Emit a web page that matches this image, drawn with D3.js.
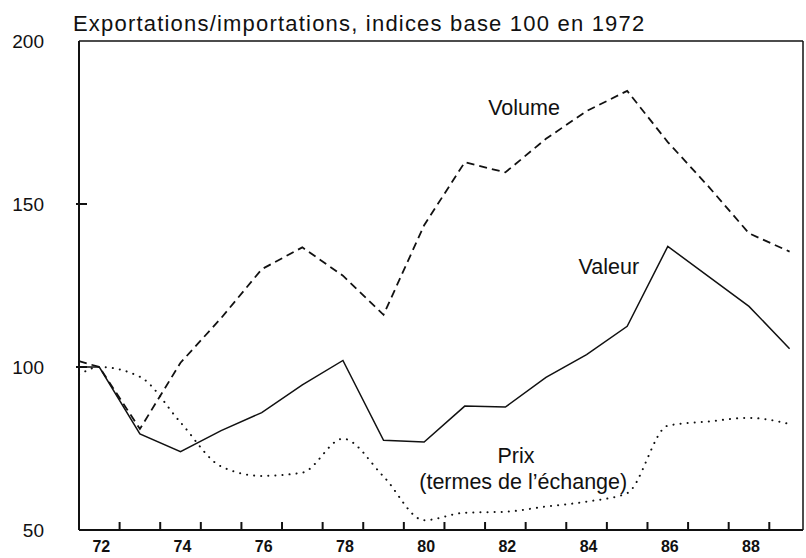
<!DOCTYPE html>
<html><head><meta charset="utf-8">
<script src="https://cdn.jsdelivr.net/npm/d3@7"></script>
<style>
body{margin:0;background:#fff;}
svg{display:block;}
text{font-family:"Liberation Sans",Arial,sans-serif;fill:#111;}
</style></head>
<body>
<svg id="c" width="806" height="558"></svg>
<script>
const title = "Exportations/importations, indices base 100 en 1972";
const years = [71.5,72,73,74,75,76,77,78,79,80,81,82,83,84,85,86,87,88,89];
const valeur = [100,100,79.5,74,80.5,86,94.5,102,77.5,77,88,87.7,96.8,103.8,112.5,137,127.8,118.6,105.6];
const volume = [101.8,100,81,101.3,115,130,136.7,128,116,143.5,162.8,159.7,170,178.5,184.7,169,155.4,141,135.4];
const prix = [97.6,100,97,83,69.5,66.6,67.6,78,66.4,53,55.3,55.6,57.2,58.7,61.3,82,83.3,84.4,82.5];
const yTicks = [50,100,150,200];
const xTickMarks = [72.5,73.5,74.5,75.5,76.5,77.5,78.5,79.5,80.5,81.5,82.5,83.5,84.5,85.5,86.5,87.5,88.5];
const xLabels = [72,74,76,78,80,82,84,86,88];
const seriesLabels = [
  {text:"Volume", x:82.46, y:177.3},
  {text:"Valeur", x:84.55, y:128.5},
  {text:"Prix", x:82.26, y:70.6},
  {text:"(termes de l\u2019échange)", x:82.44, y:62.6}
];

const svg = d3.select("#c");
const x = d3.scaleLinear().domain([71.5, 89.33]).range([79, 803]);
const y = d3.scaleLinear().domain([50, 200]).range([530, 41]);

// title
svg.append("text").attr("x",73).attr("y",31).attr("font-size",22)
  .attr("letter-spacing","1.2px").text(title);

// frame: left axis, top, right, bottom
const g = svg.append("g").attr("stroke","#111").attr("fill","none");
g.append("line").attr("x1",x(71.5)).attr("x2",x(71.5)).attr("y1",y(200)).attr("y2",y(50)).attr("stroke-width",2);
g.append("line").attr("x1",x(71.5)).attr("x2",x.range()[1]).attr("y1",y(200)).attr("y2",y(200)).attr("stroke-width",1.5);
g.append("line").attr("x1",x.range()[1]).attr("x2",x.range()[1]).attr("y1",y(200)).attr("y2",y(50)).attr("stroke-width",1.5);
g.append("line").attr("x1",x(71.5)).attr("x2",x.range()[1]).attr("y1",y(50)).attr("y2",y(50)).attr("stroke-width",2);

// y ticks
g.selectAll(".yt").data([100,150]).join("line")
  .attr("x1",x(71.5)-3).attr("x2",x(71.5)+8).attr("y1",d=>y(d)).attr("y2",d=>y(d)).attr("stroke-width",2);
svg.selectAll(".yl").data(yTicks).join("text")
  .attr("x",44).attr("y",d=>y(d)+7).attr("text-anchor","end").attr("font-size",19).text(d=>d);

// x ticks
g.selectAll(".xt").data(xTickMarks).join("line")
  .attr("x1",d=>x(d)).attr("x2",d=>x(d)).attr("y1",y(50)).attr("y2",y(50)-8).attr("stroke-width",2);
svg.selectAll(".xl").data(xLabels).join("text")
  .attr("x",d=>x(d)+2).attr("y",552).attr("text-anchor","middle").attr("font-size",16).attr("font-weight","bold").text(d=>d);

// lines
const mk = (vals, curve) => d3.line().x((d,i)=>x(years[i])).y(d=>y(d)).curve(curve)(vals);
svg.append("path").attr("d",mk(volume,d3.curveLinear)).attr("fill","none").attr("stroke","#111")
  .attr("stroke-width",1.8).attr("stroke-dasharray","8,5");
svg.append("path").attr("d",mk(valeur,d3.curveLinear)).attr("fill","none").attr("stroke","#111")
  .attr("stroke-width",1.5);
svg.append("path").attr("d",mk(prix,d3.curveMonotoneX)).attr("fill","none").attr("stroke","#111")
  .attr("stroke-width",2).attr("stroke-linecap","round").attr("stroke-dasharray","0.1,7");

// series labels
svg.selectAll(".sl").data(seriesLabels).join("text")
  .attr("x",d=>x(d.x)).attr("y",d=>y(d.y)).attr("text-anchor","middle").attr("font-size",21.5).text(d=>d.text);
</script>
</body></html>
